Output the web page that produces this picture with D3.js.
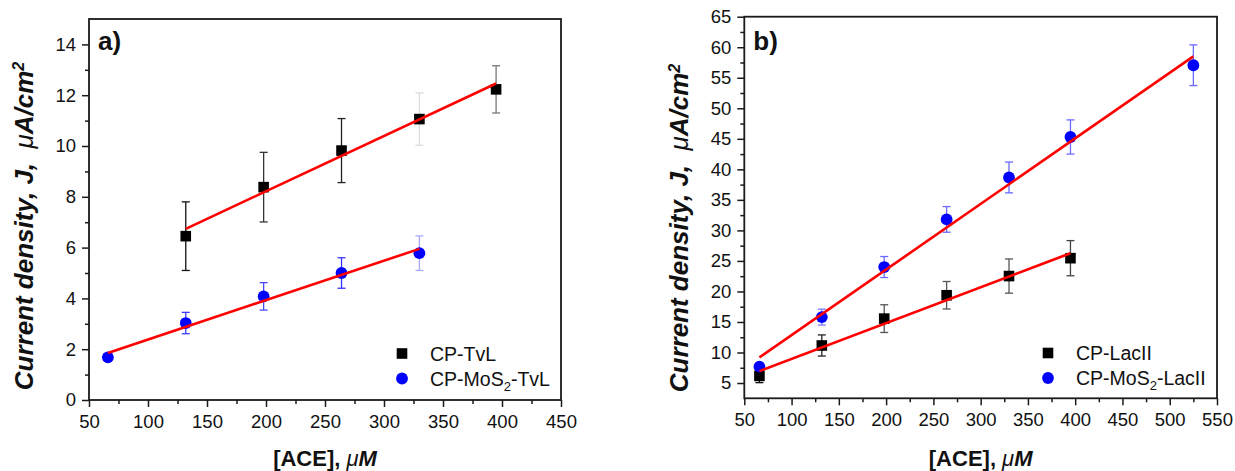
<!DOCTYPE html>
<html>
<head>
<meta charset="utf-8">
<script src="https://cdn.jsdelivr.net/npm/d3@7"></script>
<style>
  body { margin: 0; background: #fff; }
  svg { display: block; font-family: "Liberation Sans", Arial, sans-serif; }
</style>
</head>
<body>
<svg id="chart" width="1235" height="471"></svg>
<script>
// ---- Panel a: TvL electrodes ----
const concTvL = [132, 198, 264, 330, 395];
const jTvL = [6.45, 8.38, 9.82, 11.06, 12.23];
const errTvL = [1.35, 1.37, 1.26, 1.03, 0.93];
const concMoSTvL = [66, 132, 198, 264, 330];
const jMoSTvL = [1.68, 3.03, 4.08, 5.0, 5.78];
const errMoSTvL = [0.15, 0.42, 0.54, 0.6, 0.68];
const fitTvLX = [132, 395], fitTvLY = [6.74, 12.46];
const fitMoSTvLX = [66, 330], fitMoSTvLY = [1.85, 5.95];

// ---- Panel b: LacII electrodes ----
const concLac = [66, 132, 198, 264, 330, 395];
const jLac = [6.16, 11.15, 15.55, 19.38, 22.52, 25.45];
const errLac = [1.1, 1.73, 2.27, 2.25, 2.8, 2.88];
const concMoSLac = [66, 132, 198, 264, 330, 395, 525];
const jMoSLac = [7.68, 15.8, 24.0, 31.8, 38.67, 45.3, 57.05];
const errMoSLac = [0.3, 1.3, 1.72, 2.1, 2.52, 2.8, 3.33];
const fitLacX = [66, 395], fitLacY = [6.95, 26.27];
const fitMoSLacX = [66, 525], fitMoSLacY = [9.2, 58.5];

// ---- Axis ticks ----
const xTicksA = [50, 100, 150, 200, 250, 300, 350, 400, 450];
const xMinorA = [75, 125, 175, 225, 275, 325, 375, 425];
const yTicksA = [0, 2, 4, 6, 8, 10, 12, 14];
const yMinorA = [1, 3, 5, 7, 9, 11, 13];
const xTicksB = [50, 100, 150, 200, 250, 300, 350, 400, 450, 500, 550];
const xMinorB = [75, 125, 175, 225, 275, 325, 375, 425, 475, 525];
const yTicksB = [5, 10, 15, 20, 25, 30, 35, 40, 45, 50, 55, 60, 65];
const yMinorB = [7.5, 12.5, 17.5, 22.5, 27.5, 32.5, 37.5, 42.5, 47.5, 52.5, 57.5, 62.5];

const svg = d3.select("#chart");
const AXIS = "#1a1a1a";

function styleAxis(sel, fontSize) {
  sel.attr("font-family", null).attr("font-size", null);
  sel.selectAll(".tick line").attr("stroke", AXIS).attr("stroke-width", 1.5);
  sel.selectAll(".tick text").attr("fill", "#111").style("font-size", fontSize + "px");
  sel.select(".domain").remove();
}

function drawPanel(cfg) {
  const g = svg.append("g");
  const x = d3.scaleLinear().domain(cfg.xDomain).range([cfg.left, cfg.right]);
  const y = d3.scaleLinear().domain(cfg.yDomain).range([cfg.bottom, cfg.top]);

  // minor ticks
  g.append("g").attr("transform", `translate(0,${cfg.bottom})`)
    .call(d3.axisBottom(x).tickValues(cfg.xMinor).tickSize(4).tickFormat(""))
    .call(s => styleAxis(s, 18.5));
  g.append("g").attr("transform", `translate(${cfg.left},0)`)
    .call(d3.axisLeft(y).tickValues(cfg.yMinor).tickSize(4).tickFormat(""))
    .call(s => styleAxis(s, 18.5));
  // major ticks with labels
  g.append("g").attr("transform", `translate(0,${cfg.bottom})`)
    .call(d3.axisBottom(x).tickValues(cfg.xTicks).tickSize(7).tickPadding(8).tickFormat(d3.format("d")))
    .call(s => styleAxis(s, 18.5));
  g.append("g").attr("transform", `translate(${cfg.left},0)`)
    .call(d3.axisLeft(y).tickValues(cfg.yTicks).tickSize(7).tickPadding(6).tickFormat(d3.format("d")))
    .call(s => styleAxis(s, 18.5));

  // frame
  g.append("rect")
    .attr("x", cfg.left).attr("y", cfg.top)
    .attr("width", cfg.right - cfg.left).attr("height", cfg.bottom - cfg.top)
    .attr("fill", "none").attr("stroke", AXIS).attr("stroke-width", 1.8);

  // error bars
  cfg.series.forEach(s => {
    const eg = g.append("g");
    s.x.forEach((cx, i) => {
      const px = x(cx), y0 = y(s.y[i] - s.err[i]), y1 = y(s.y[i] + s.err[i]);
      const col = s.errColors[i];
      eg.append("line").attr("x1", px).attr("x2", px).attr("y1", y0).attr("y2", y1)
        .attr("stroke", col).attr("stroke-width", 1.3);
      [y0, y1].forEach(yy => eg.append("line")
        .attr("x1", px - 4).attr("x2", px + 4).attr("y1", yy).attr("y2", yy)
        .attr("stroke", col).attr("stroke-width", 1.3));
    });
  });

  // markers
  cfg.series.forEach(s => {
    s.x.forEach((cx, i) => drawMarker(g, s.shape, x(cx), y(s.y[i])));
  });

  // linear fits
  const line = d3.line().x(d => x(d[0])).y(d => y(d[1]));
  cfg.fits.forEach(f => {
    g.append("path").datum(d3.zip(f.x, f.y)).attr("d", line)
      .attr("fill", "none").attr("stroke", "#ff0000").attr("stroke-width", 2.6);
  });

  // panel letter
  g.append("text").attr("x", cfg.left + cfg.letterDx).attr("y", cfg.top + cfg.letterDy)
    .style("font-size", "26px").style("font-weight", "bold").attr("fill", "#111").text(cfg.letter);

  // legend
  cfg.series.forEach((s, i) => {
    const ly = cfg.legendY + i * 25;
    drawMarker(g, s.shape, cfg.legendX, ly);
    const t = g.append("text").attr("x", cfg.legendX + 28).attr("y", ly + 7)
      .style("font-size", "19.5px").attr("fill", "#111");
    s.label.forEach(part => {
      const ts = t.append("tspan").text(part.t);
      if (part.sub) ts.attr("dy", 5).style("font-size", "13px");
      if (part.after) ts.attr("dy", -5);
    });
  });

  // axis titles
  const xt = g.append("text").attr("x", (cfg.left + cfg.right) / 2).attr("y", 466)
    .attr("text-anchor", "middle").style("font-size", "22px").style("font-weight", "bold").attr("fill", "#111");
  xt.append("tspan").text("[ACE],\u00a0");
  xt.append("tspan").style("font-style", "italic").style("font-weight", "normal").text("\u03bc");
  xt.append("tspan").style("font-style", "italic").text("M");

  const yt = g.append("text")
    .attr("transform", `translate(${cfg.left - 56},${cfg.yTitleY}) rotate(-90)`)
    .attr("text-anchor", "middle").style("font-size", "26px")
    .style("font-weight", "bold").style("font-style", "italic").attr("fill", "#111");
  yt.append("tspan").text("Current density, J,\u00a0\u00a0");
  yt.append("tspan").style("font-weight", "normal").text("\u03bc");
  yt.append("tspan").text("A/cm");
  yt.append("tspan").attr("dy", "-0.55em").style("font-size", "16px").text("2");
}

function drawMarker(g, shape, px, py) {
  if (shape === "square") {
    g.append("rect").attr("x", px - 5.3).attr("y", py - 5.3).attr("width", 10.6).attr("height", 10.6)
      .attr("fill", "#000");
  } else {
    g.append("circle").attr("cx", px).attr("cy", py).attr("r", 5.9).attr("fill", "#0000ff");
  }
}

drawPanel({
  left: 89, right: 561, top: 19, bottom: 400,
  xDomain: [50, 450], yDomain: [0, 15],
  xTicks: xTicksA, xMinor: xMinorA, yTicks: yTicksA, yMinor: yMinorA,
  letter: "a)", letterDx: 9, letterDy: 31,
  legendX: 402, legendY: 353.5, yTitleY: 226,
  series: [
    { x: concTvL, y: jTvL, err: errTvL, shape: "square",
      errColors: ["#111", "#333", "#222", "#dcdcdc", "#777"],
      label: [{ t: "CP-TvL" }] },
    { x: concMoSTvL, y: jMoSTvL, err: errMoSTvL, shape: "circle",
      errColors: ["#4d4dff", "#3d3dff", "#4a4aff", "#3333ff", "#a8a8ff"],
      label: [{ t: "CP-MoS" }, { t: "2", sub: true }, { t: "-TvL", after: true }] }
  ],
  fits: [{ x: fitTvLX, y: fitTvLY }, { x: fitMoSTvLX, y: fitMoSTvLY }]
});

drawPanel({
  left: 744.3, right: 1217, top: 16.7, bottom: 398.3,
  xDomain: [50, 550], yDomain: [2.5, 65],
  xTicks: xTicksB, xMinor: xMinorB, yTicks: yTicksB, yMinor: yMinorB,
  letter: "b)", letterDx: 9, letterDy: 33,
  legendX: 1048, legendY: 353, yTitleY: 228,
  series: [
    { x: concLac, y: jLac, err: errLac, shape: "square",
      errColors: ["#111", "#222", "#555", "#555", "#555", "#444"],
      label: [{ t: "CP-LacII" }] },
    { x: concMoSLac, y: jMoSLac, err: errMoSLac, shape: "circle",
      errColors: ["#7070ff", "#7a7aff", "#6a6aff", "#6a6aff", "#6a6aff", "#6a6aff", "#6a6aff"],
      label: [{ t: "CP-MoS" }, { t: "2", sub: true }, { t: "-LacII", after: true }] }
  ],
  fits: [{ x: fitLacX, y: fitLacY }, { x: fitMoSLacX, y: fitMoSLacY }]
});
</script>
</body>
</html>
